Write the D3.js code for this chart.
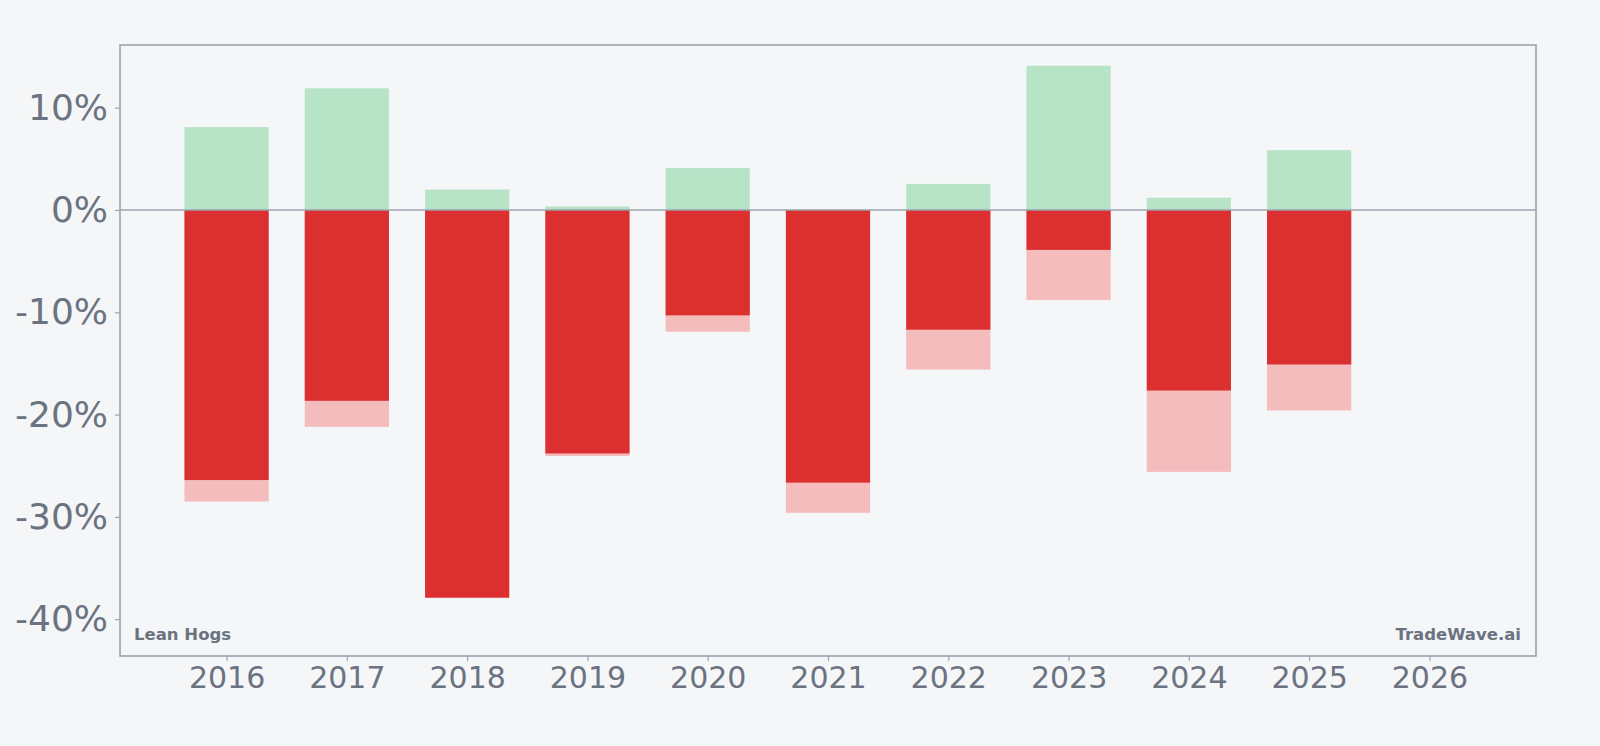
<!DOCTYPE html>
<html>
<head>
<meta charset="utf-8">
<script src="https://cdn.jsdelivr.net/npm/d3@7"></script>
<style>
  html, body { margin: 0; padding: 0; background: #f4f6f8; }
  svg { display: block; }
</style>
</head>
<body>
<svg id="chart" width="1600" height="746"></svg>
<script>
const years = [2016, 2017, 2018, 2019, 2020, 2021, 2022, 2023, 2024, 2025];
const maxGain = [8.1, 11.9, 2.0, 0.35, 4.1, 0.0, 2.55, 14.1, 1.2, 5.85];
const maxLoss = [-28.5, -21.2, -37.9, -24.05, -11.9, -29.6, -15.6, -8.8, -25.6, -19.6];
const yearEnd = [-26.4, -18.65, -37.9, -23.8, -10.3, -26.65, -11.7, -3.9, -17.65, -15.1];
const xTicks = [2016, 2017, 2018, 2019, 2020, 2021, 2022, 2023, 2024, 2025, 2026];
const yTicks = [-40, -30, -20, -10, 0, 10];
const title = "Lean Hogs";
const brand = "TradeWave.ai";

const svg = d3.select("#chart");
const L = 120, R = 1536, T = 45, B = 656;
const axisColor = "#9ca3af", textColor = "#6b7280";
const x = d3.scaleLinear().domain([2015.114, 2026.886]).range([L, R]);
const y = d3.scaleLinear().domain([16.13, -43.6]).range([T, B]);
const bw = x(2016.35) - x(2015.65);

const data = years.map((yr, i) => ({yr, g: maxGain[i], l: maxLoss[i], e: yearEnd[i]}));
const g = svg.append("g");

g.selectAll(".gain").data(data).join("rect")
  .attr("x", d => x(d.yr) - bw / 2).attr("width", bw)
  .attr("y", d => y(d.g)).attr("height", d => y(0) - y(d.g))
  .attr("fill", "#b7e4c7");
g.selectAll(".loss").data(data).join("rect")
  .attr("x", d => x(d.yr) - bw / 2).attr("width", bw)
  .attr("y", y(0)).attr("height", d => y(d.l) - y(0))
  .attr("fill", "#f4bcbc");
g.selectAll(".end").data(data).join("rect")
  .attr("x", d => x(d.yr) - bw / 2).attr("width", bw)
  .attr("y", y(0)).attr("height", d => y(d.e) - y(0))
  .attr("fill", "#dc2f2f");

svg.append("line").attr("x1", L).attr("x2", R).attr("y1", y(0)).attr("y2", y(0))
  .attr("stroke", axisColor).attr("stroke-width", 1.6);

svg.append("rect").attr("x", L).attr("y", T).attr("width", R - L).attr("height", B - T)
  .attr("fill", "none").attr("stroke", axisColor).attr("stroke-width", 1.6);

const yAxis = svg.append("g").attr("transform", `translate(${L},0)`)
  .call(d3.axisLeft(y).tickValues(yTicks).tickSize(5).tickPadding(7).tickFormat(d => d + "%"));
yAxis.select(".domain").remove();
yAxis.selectAll("line").attr("stroke", axisColor).attr("stroke-width", 1.2);
yAxis.selectAll("text").attr("fill", textColor).attr("font-family", "DejaVu Sans")
  .attr("font-size", 36);

const xAxis = svg.append("g").attr("transform", `translate(0,${B})`)
  .call(d3.axisBottom(x).tickValues(xTicks).tickSize(5).tickPadding(6).tickFormat(d3.format("d")));
xAxis.select(".domain").remove();
xAxis.selectAll("line").attr("stroke", axisColor).attr("stroke-width", 1.2);
xAxis.selectAll("text").attr("fill", textColor).attr("font-family", "DejaVu Sans")
  .attr("font-size", 30);

svg.append("text").attr("x", 134).attr("y", 640).text(title)
  .attr("font-family", "DejaVu Sans").attr("font-weight", "bold").attr("font-size", 16.5)
  .attr("fill", textColor);
svg.append("text").attr("x", 1521).attr("y", 640).attr("text-anchor", "end").text(brand)
  .attr("font-family", "DejaVu Sans").attr("font-weight", "bold").attr("font-size", 16.5)
  .attr("fill", textColor);
</script>
</body>
</html>
